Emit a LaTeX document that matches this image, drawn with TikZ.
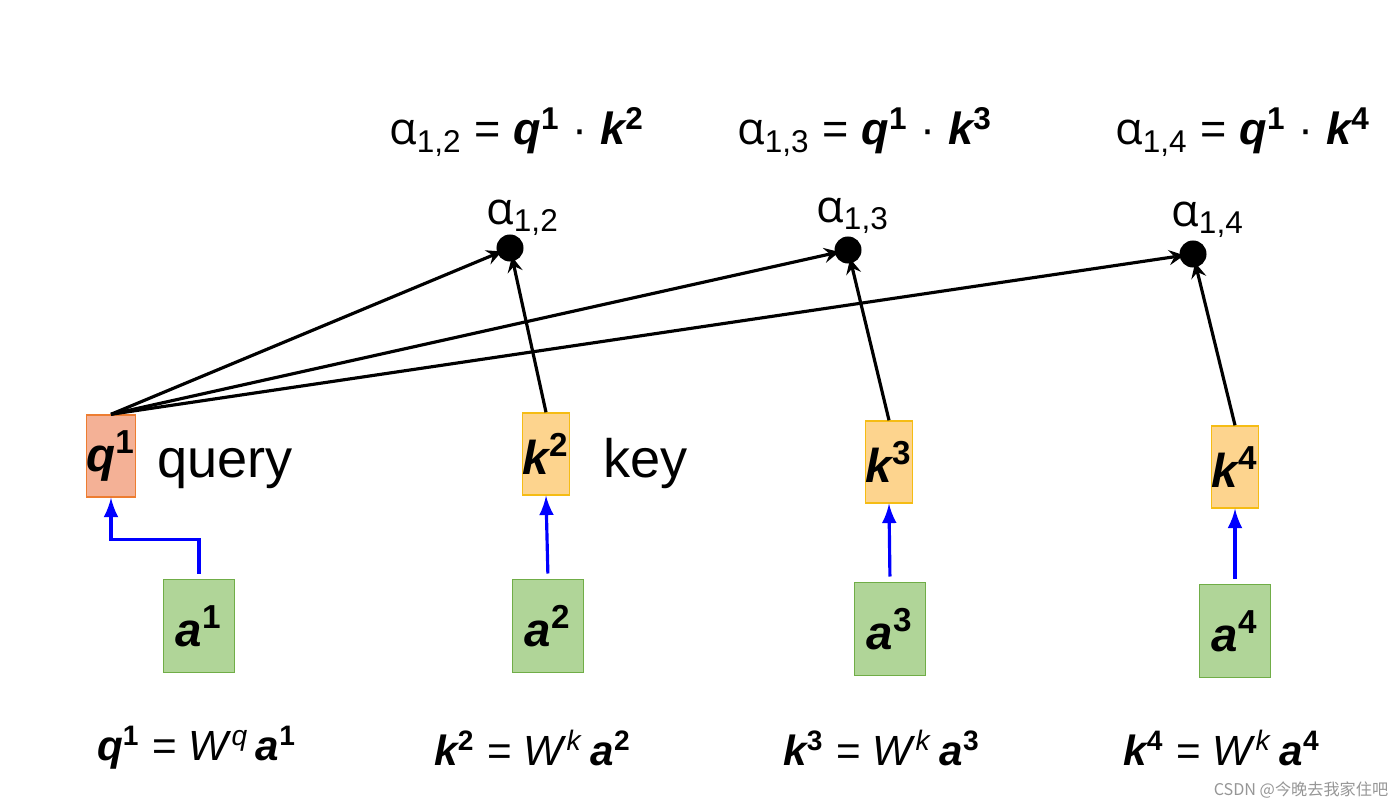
\documentclass[tikz,border=0pt]{standalone}
\usepackage{fontspec}
\setmainfont{Liberation Sans}
\newfontfamily\grkfont{Open Sans}
\newfontfamily\cjkfont{Noto Sans CJK SC}
\usetikzlibrary{arrows}
\definecolor{qfill}{RGB}{244,177,150}
\definecolor{qline}{RGB}{237,125,49}
\definecolor{kfill}{RGB}{253,212,142}
\definecolor{kline}{RGB}{245,188,20}
\definecolor{afill}{RGB}{176,213,152}
\definecolor{aline}{RGB}{112,173,71}
\definecolor{wmark}{RGB}{150,150,150}
\newcommand{\bv}[2]{{\bfseries\itshape #1}\textsuperscript{\bfseries #2}}
\newcommand{\al}[1]{{\grkfont α}\textsubscript{#1}}

\begin{document}
\begin{tikzpicture}[x=0.01cm,y=-0.01cm,
  qbox/.style={draw=qline, fill=qfill, minimum width=0.44cm, minimum height=0.82cm, inner sep=0pt, font=\fontsize{13.5}{16}\selectfont},
  kbox/.style={draw=kline, fill=kfill, minimum width=0.45cm, minimum height=0.82cm, inner sep=0pt, font=\fontsize{13.5}{16}\selectfont},
  abox/.style={draw=aline, fill=afill, minimum width=0.71cm, minimum height=0.93cm, inner sep=0pt, font=\fontsize{13.5}{16}\selectfont},
  dot/.style={circle, fill=black, minimum size=0.27cm, inner sep=0pt},
  eq/.style={font=\fontsize{12.8}{15}\selectfont},
  beq/.style={font=\fontsize{12}{14}\selectfont},
  word/.style={anchor=west, font=\fontsize{15.4}{18}\selectfont},
  score/.style={-stealth, line width=0.9pt, black, shorten >=-1.5pt},
  proj/.style={-latex, line width=0.9pt, blue, shorten <=1.5pt}
]
\useasboundingbox (0,0) rectangle (1400,806);

%top formulas
\node[eq] (e12) at (517,132) {\al{1,2} = \bv{q}{1} · \bv{k}{2}};
\node[eq] (e13) at (865,132) {\al{1,3} = \bv{q}{1} · \bv{k}{3}};
\node[eq] (e14) at (1243,132) {\al{1,4} = \bv{q}{1} · \bv{k}{4}};

%scores
\node[dot] (d12) at (510,248) {};
\node[dot] (d13) at (848,250) {};
\node[dot] (d14) at (1193,254) {};
\node[eq] (l12) at (523,218) {\al{1,2}};
\node[eq] (l13) at (853,216) {\al{1,3}};
\node[eq] (l14) at (1208,220) {\al{1,4}};

%query and keys
\node[qbox] (q1) at (111,456) {\bv{q}{1}};
\node[kbox] (k2) at (546,454) {\bv{k}{2}};
\node[kbox] (k3) at (889,462) {\bv{k}{3}};
\node[kbox] (k4) at (1235,467) {\bv{k}{4}};
\node[word] (query) at (145,469) {query};
\node[word] (key) at (591,463) {key};

%inputs
\node[abox] (a1) at (199,626) {\bv{a}{1}};
\node[abox] (a2) at (548,626) {\bv{a}{2}};
\node[abox] (a3) at (890,629) {\bv{a}{3}};
\node[abox] (a4) at (1235,631) {\bv{a}{4}};

%bottom formulas
\node[beq] (b1) at (197,748) {\bv{q}{1} = \textit{W}\textsuperscript{\textit{q}}\,\bv{a}{1}};
\node[beq] (b2) at (533,748) {\bv{k}{2} = \textit{W}\textsuperscript{\textit{k}}\,\bv{a}{2}};
\node[beq] (b3) at (882,748) {\bv{k}{3} = \textit{W}\textsuperscript{\textit{k}}\,\bv{a}{3}};
\node[beq] (b4) at (1222,748) {\bv{k}{4} = \textit{W}\textsuperscript{\textit{k}}\,\bv{a}{4}};

%projections
\draw[proj] (a1.north) -- ++(0,-39) -| (q1.south);
\draw[proj] (a2.north) -- (k2.south);
\draw[proj] (a3.north) -- (k3.south);
\draw[proj] (a4.north) -- (k4.south);

%dot products
\draw[score] (q1.north) -- (d12);
\draw[score] (q1.north) -- (d13);
\draw[score] (q1.north) -- (d14);
\draw[score] (k2.north) -- (d12);
\draw[score] (k3.north) -- (d13);
\draw[score] (k4.north) -- (d14);

\node[text=wmark, font=\cjkfont\fontsize{4.6}{5.5}\selectfont] (wm) at (1301,790) {CSDN @今晚去我家住吧};
\end{tikzpicture}
\end{document}
